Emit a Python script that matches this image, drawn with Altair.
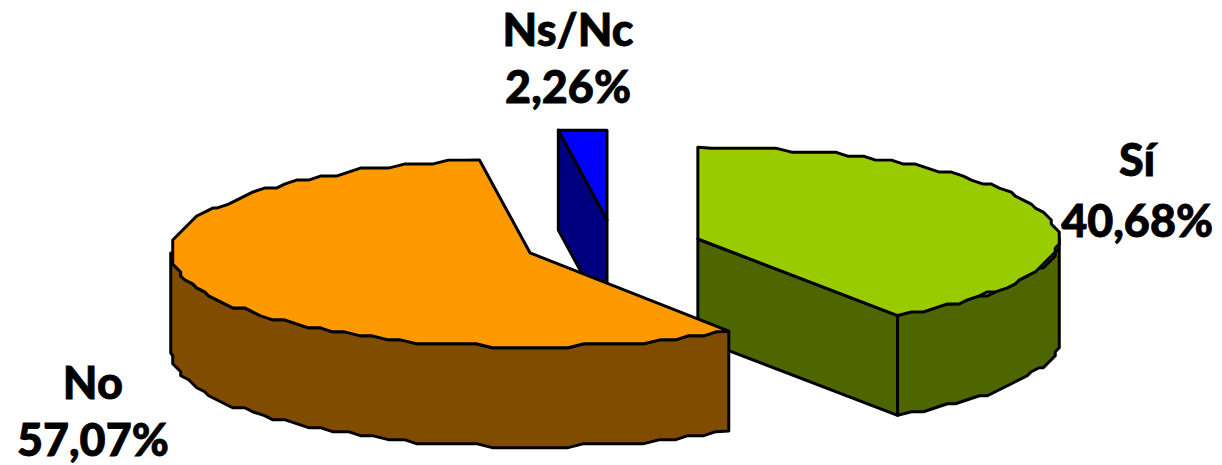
import math
import altair as alt
import pandas as pd

# Chart values
categories = ["Sí", "No", "Ns/Nc"]
shares = [40.68, 57.07, 2.26]
value_labels = ["40,68%", "57,07%", "2,26%"]

# Look of each slice
top_colors = ["#99CC00", "#FF9900", "#0000FF"]
wall_colors = ["#4D6600", "#804D00", "#000080"]
centres = [(698, 239), (530, 253), (607, 220)]
radii = [(362, 92), (360, 94), (346, 90)]
depth = 100
draw_order = [0, 2, 1]
label_pos = [(1138, 162, 223), (92, 385, 442), (568, 32, 89)]
FONT = "Lato"
FSIZE = 45
X_DOMAIN = [7, 1215]
Y_DOMAIN = [465, 8]
GRID = 4


def slice_rim(i, start, end):
    cx, cy = centres[i]
    a, b = radii[i]
    if i == 2:
        # the narrow back slice has a straight rim
        return [(cx + a * math.sin(math.radians(t)), cy - b) for t in (start, end)]
    n = max(2, int(abs(end - start) / 2.5) + 1)
    pts = []
    for k in range(n + 1):
        t = math.radians(start + (end - start) * k / n)
        x, y = cx + a * math.sin(t), cy - b * math.cos(t)
        if 0 < k < n:
            x, y = round(x / GRID) * GRID, round(y / GRID) * GRID
        pts.append((x, y))
    return pts


def poly(pts, fill):
    closed = list(pts) + [pts[0], pts[1]]
    df = pd.DataFrame(
        {"x": [p[0] for p in closed], "y": [p[1] for p in closed], "o": list(range(len(closed)))}
    )
    return (
        alt.Chart(df)
        .mark_line(fill=fill, stroke="black", strokeWidth=3, strokeJoin="round", interpolate="linear", clip=False)
        .encode(
            x=alt.X("x:Q", scale=alt.Scale(domain=X_DOMAIN), axis=None),
            y=alt.Y("y:Q", scale=alt.Scale(domain=Y_DOMAIN), axis=None),
            order="o:O",
        )
    )


layers = []
bounds = []
acc = 0.0
for s in shares:
    bounds.append((acc * 3.6, (acc + s) * 3.6))
    acc += s

for i in draw_order:
    start, end = bounds[i]
    end = min(end, 360)
    cx, cy = centres[i]
    rim = slice_rim(i, start, end)
    walls = []
    if i == 0:
        p = rim[-1]
        walls.append([(cx, cy), p, (p[0], p[1] + depth), (cx, cy + depth)])
        front = slice_rim(i, 90, end)
        walls.append(front + [(q[0], q[1] + depth) for q in reversed(front)])
    elif i == 1:
        front = slice_rim(i, start, 270)
        walls.append(front + [(q[0], q[1] + depth) for q in reversed(front)])
    else:
        p = rim[0]
        walls.append([(cx, cy), p, (p[0], p[1] + depth), (cx, cy + depth)])
    for w in walls:
        layers.append(poly(w, wall_colors[i]))
    layers.append(poly([(cx, cy)] + rim, top_colors[i]))

for i in range(3):
    x, y1, y2 = label_pos[i]
    df = pd.DataFrame({"x": [x, x], "y": [y1, y2], "t": [categories[i], value_labels[i]]})
    layers.append(
        alt.Chart(df)
        .mark_text(font=FONT, fontWeight=900, fontSize=FSIZE, color="black", stroke="black", strokeWidth=0.8,
                   align="center", baseline="middle")
        .encode(
            x=alt.X("x:Q", scale=alt.Scale(domain=X_DOMAIN), axis=None),
            y=alt.Y("y:Q", scale=alt.Scale(domain=Y_DOMAIN), axis=None),
            text="t:N",
        )
    )

chart = (
    alt.layer(*layers)
    .properties(width=1208, height=457, padding=0, autosize=alt.AutoSizeParams(type="none"))
    .configure_view(strokeOpacity=0, strokeWidth=0, fillOpacity=0)
)
chart.save("out.html", embed_options={"renderer": "svg", "actions": False})
